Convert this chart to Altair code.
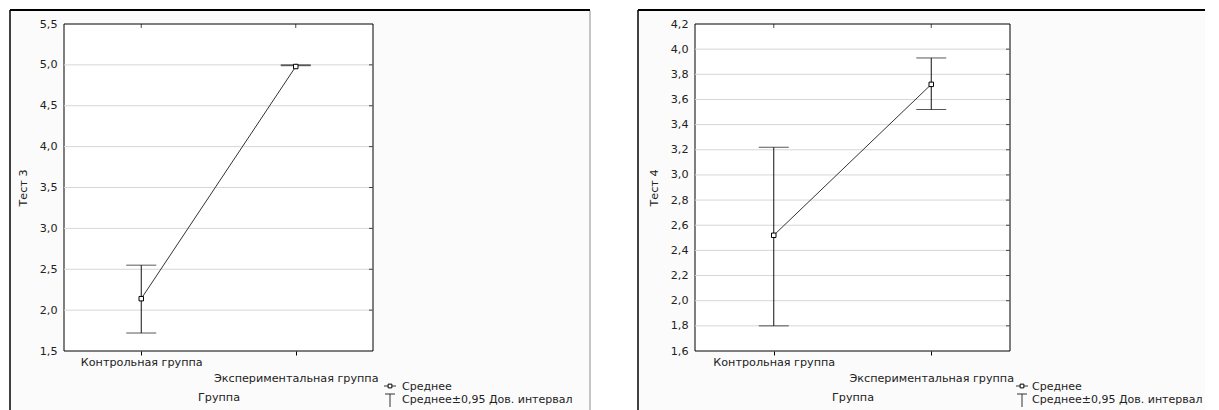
import altair as alt
import pandas as pd

groups = ["Контрольная группа", "Экспериментальная группа"]

t3_mean = [2.14, 4.98]
t3_lo = [1.72, 4.99]
t3_hi = [2.55, 5.00]
t3_ticks = [1.5, 2.0, 2.5, 3.0, 3.5, 4.0, 4.5, 5.0, 5.5]

t4_mean = [2.52, 3.72]
t4_lo = [1.80, 3.52]
t4_hi = [3.22, 3.93]
t4_ticks = [1.6, 1.8, 2.0, 2.2, 2.4, 2.6, 2.8, 3.0, 3.2, 3.4, 3.6, 3.8, 4.0, 4.2]

legend_labels = ["Среднее", "Среднее±0,95 Дов. интервал"]
x_title = "Группа"
y_titles = ["Тест 3", "Тест 4"]

FONT = "DejaVu Sans"
FS = 11.2
LFS = 11
TXT = "#222222"


def panel(ytitle, mean, lo, hi, ticks, w, h, frame_left, frame_right, right_border, sym_dx, txt_dx):
    df = pd.DataFrame({"g": groups, "m": mean, "lo": lo, "hi": hi})
    one = pd.DataFrame({"k": [0]})
    grid_df = pd.DataFrame({"v": ticks[1:-1]})

    xscale = alt.Scale(type="point", padding=0.5, domain=groups)
    yscale = alt.Scale(domain=[ticks[0], ticks[-1]], nice=False, zero=False)

    xaxis = alt.Axis(
        title=x_title, labelAngle=0, grid=False, domain=False,
        labelExpr="datum.value == 'Экспериментальная группа' ? ['', datum.label] : datum.label",
        labelLineHeight=16, labelPadding=1, tickSize=4, tickColor="#000",
        titlePadding=8, zindex=1, labelFont=FONT, labelFontSize=FS,
        titleFont=FONT, titleFontSize=FS, titleFontWeight="normal",
        labelColor=TXT, titleColor=TXT,
    )
    yaxis = alt.Axis(
        title=ytitle, values=ticks, grid=False, domain=False, ticks=False,
        labelExpr="replace(format(datum.value, '.1f'), '.', ',')",
        labelPadding=7, titlePadding=11, zindex=1, labelFont=FONT,
        labelFontSize=FS, titleFont=FONT, titleFontSize=FS,
        titleFontWeight="normal", labelColor=TXT, titleColor=TXT,
    )

    def Y(field):
        return alt.Y(field, scale=yscale, axis=yaxis)

    X = alt.X("g:N", scale=xscale, axis=xaxis, sort=groups)

    frame = alt.Chart(one).mark_rect(fill="#fbfbfb").encode(
        x=alt.value(frame_left), x2=alt.value(w + frame_right), y=alt.value(-14), y2=alt.value(h + 90)
    )
    top_line = alt.Chart(one).mark_rule(color="#000", strokeWidth=2).encode(
        x=alt.value(frame_left), x2=alt.value(w + frame_right), y=alt.value(-14)
    )
    left_line = alt.Chart(one).mark_rule(color="#000", strokeWidth=1.5).encode(
        x=alt.value(frame_left), y=alt.value(-14), y2=alt.value(h + 90)
    )
    layers = [frame, top_line, left_line]
    if right_border:
        right_line = alt.Chart(one).mark_rule(color="#8c8c8c", strokeWidth=1).encode(
            x=alt.value(w + frame_right), y=alt.value(-13), y2=alt.value(h + 90)
        )
        layers.append(right_line)

    plot_bg = alt.Chart(one).mark_rect(fill="white", stroke="#000", strokeWidth=1).encode(
        x=alt.value(0), x2=alt.value(w), y=alt.value(0), y2=alt.value(h)
    )
    grid = alt.Chart(grid_df).mark_rule(color="#d6d6d6", strokeWidth=1).encode(y=Y("v:Q"))
    right_ticks = alt.Chart(grid_df).mark_tick(color="#000", size=4, thickness=1, orient="horizontal").encode(
        x=alt.value(w - 2), y=Y("v:Q")
    )

    base = alt.Chart(df)
    top_ticks = base.mark_tick(color="#000", size=4, thickness=1, orient="vertical").encode(
        x=X, y=alt.value(2)
    )
    line = base.mark_line(color="#333333", strokeWidth=1).encode(x=X, y=Y("m:Q"))
    err = base.mark_rule(color="#111111", strokeWidth=1).encode(x=X, y=Y("lo:Q"), y2="hi:Q")
    cap_lo = base.mark_tick(color="#111111", size=30, thickness=1).encode(x=X, y=Y("lo:Q"))
    cap_hi = base.mark_tick(color="#111111", size=30, thickness=1).encode(x=X, y=Y("hi:Q"))
    pts = base.mark_square(size=20, fill="white", stroke="#000", strokeWidth=1, opacity=1).encode(
        x=X, y=Y("m:Q")
    )

    r1 = h + 35
    r2 = h + 49
    sx = w + sym_dx
    tx = w + txt_dx
    leg_line = alt.Chart(one).mark_rule(color="#333", strokeWidth=1).encode(
        x=alt.value(sx - 6), x2=alt.value(sx + 6), y=alt.value(r1)
    )
    leg_sq = alt.Chart(one).mark_square(size=14, fill="white", stroke="#000", strokeWidth=1, opacity=1).encode(
        x=alt.value(sx), y=alt.value(r1)
    )
    leg_t_h = alt.Chart(one).mark_rule(color="#333", strokeWidth=1).encode(
        x=alt.value(sx - 5), x2=alt.value(sx + 5), y=alt.value(r2 - 6)
    )
    leg_t_v = alt.Chart(one).mark_rule(color="#333", strokeWidth=1).encode(
        x=alt.value(sx), y=alt.value(r2 - 6), y2=alt.value(r2 + 7)
    )
    leg_txt1 = alt.Chart(one).mark_text(align="left", baseline="middle", font=FONT, fontSize=LFS, color=TXT).encode(
        x=alt.value(tx), y=alt.value(r1 + 1), text=alt.value(legend_labels[0])
    )
    leg_txt2 = alt.Chart(one).mark_text(align="left", baseline="middle", font=FONT, fontSize=LFS, color=TXT).encode(
        x=alt.value(tx), y=alt.value(r2), text=alt.value(legend_labels[1])
    )

    layers += [plot_bg, grid, right_ticks, top_ticks, line, err, cap_lo, cap_hi, pts,
               leg_line, leg_sq, leg_t_h, leg_t_v, leg_txt1, leg_txt2]
    return alt.layer(*layers).properties(width=w, height=h)


p1 = panel(y_titles[0], t3_mean, t3_lo, t3_hi, t3_ticks, 309, 327, -54, 217, True, 17, 29)
p2 = panel(y_titles[1], t4_mean, t4_lo, t4_hi, t4_ticks, 315, 327, -57, 195, False, 12, 22)

chart = alt.hconcat(p1, p2, spacing=44).properties(
    padding={"left": 0, "top": 0, "right": 0, "bottom": 0}
).configure_view(stroke=None).configure(background="white")

chart.save("out.html", embed_options={"renderer": "svg", "actions": False})
